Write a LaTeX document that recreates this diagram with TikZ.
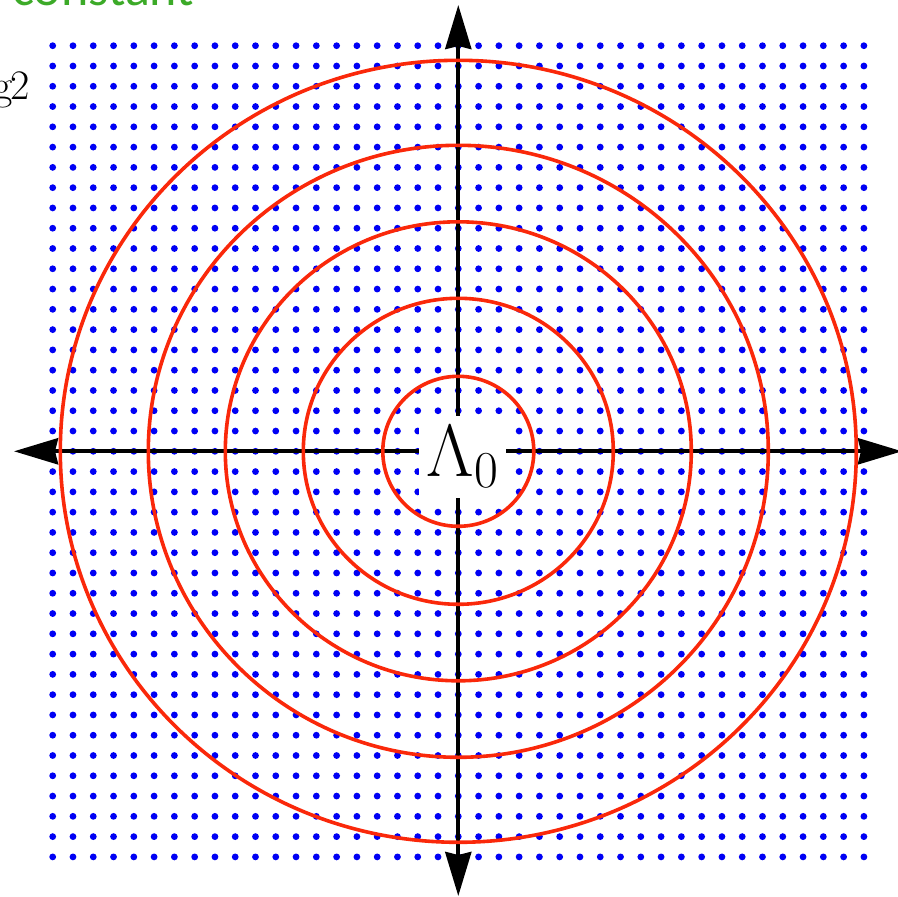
\documentclass[tikz,border=0pt]{standalone}
\usepackage{fix-cm}
\usepackage{fontspec}
\newfontfamily\carlito{Carlito}
\usetikzlibrary{arrows.meta}
\definecolor{dotblue}{RGB}{0,0,245}
\definecolor{ringred}{RGB}{250,40,10}
\definecolor{txtgreen}{RGB}{60,170,40}
\tikzset{
  gdot/.style={fill=dotblue,draw=none},
  axis/.style={line width=4pt,black,{Stealth[length=44pt,width=26pt,inset=3pt]}-{Stealth[length=44pt,width=26pt,inset=3pt]}},
  ring/.style={line width=3.6pt,ringred},
  lbl/.style={fill=white,minimum width=87pt,minimum height=82pt,inner sep=0pt,font=\fontsize{74}{80}\selectfont}
}
\begin{document}
\begin{tikzpicture}[x=1pt,y=-1pt]
\useasboundingbox (0,0) rectangle (898,897);
\fill[white] (0,0) rectangle (898,897);
% lattice
\foreach \i in {0,...,40}{
  \foreach \j in {0,...,40}{
    \fill[gdot] ({52.7+20.28*\i},{45.7+20.28*\j}) circle (3.4pt);
  }
}
\coordinate (O) at (458.3,451.3);
\coordinate (xl) at (14,451.3);
\coordinate (xr) at (902,451.3);
\coordinate (yt) at (458.3,5);
\coordinate (yb) at (458.3,896);
\draw[axis] (xl) -- (xr);
\draw[axis] (yb) -- (yt);
% rings
\draw[ring] (O) ellipse [x radius=75.5pt, y radius=75pt];
\draw[ring] (O) ellipse [x radius=155pt, y radius=153pt];
\draw[ring] (O) ellipse [x radius=233pt, y radius=229.5pt];
\draw[ring] (O) ellipse [x radius=310pt, y radius=306pt];
\draw[ring] (O) ellipse [x radius=398pt, y radius=391pt];
\node[lbl] (L0) at (462.5,456.5) {$\Lambda_0$};
\node[anchor=base east,inner sep=0pt,font=\fontsize{42}{46}\selectfont] (g2) at (30,99) {g\kern-2pt 2};
\node[anchor=base west,inner sep=0pt,text=txtgreen,font=\carlito\fontsize{52}{56}\selectfont] (cst) at (12,5) {constant};
\end{tikzpicture}
\end{document}
